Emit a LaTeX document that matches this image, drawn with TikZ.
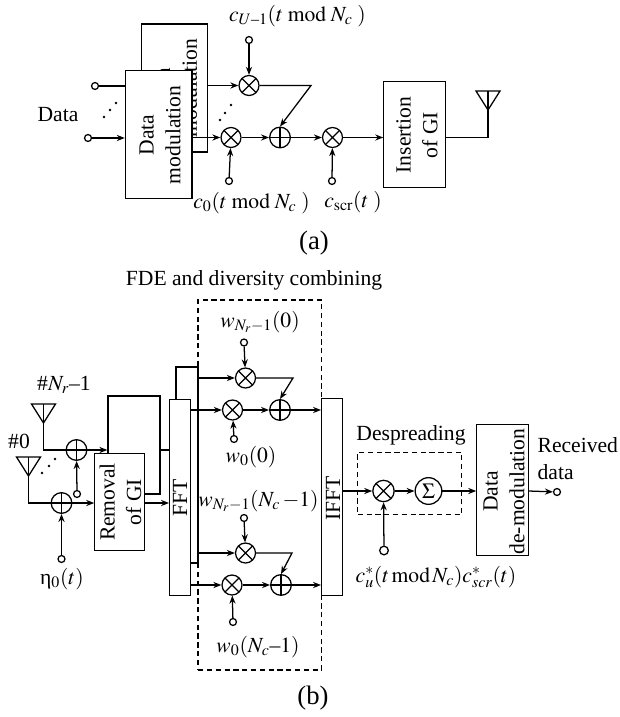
\documentclass[tikz,border=0pt]{standalone}
\usepackage{amsmath}
\usepackage{mathptmx}
\usepackage[no-math]{fontspec}
\setmainfont{Liberation Serif}
\usetikzlibrary{arrows.meta, calc}
\tikzset{
  block/.style={draw,rectangle,fill=white,inner sep=0pt,align=center},
  vtext/.style={rotate=90,align=center,inner sep=0pt},
  term/.style={draw,circle,fill=white,inner sep=0pt,minimum size=5.2pt},
  mulnode/.style={draw,circle,inner sep=0pt,minimum size=15pt,
    path picture={\draw (path picture bounding box.north west) -- (path picture bounding box.south east)
      (path picture bounding box.north east) -- (path picture bounding box.south west);}},
  addnode/.style={draw,circle,inner sep=0pt,minimum size=15.5pt,
    path picture={\draw (path picture bounding box.north) -- (path picture bounding box.south)
      (path picture bounding box.east) -- (path picture bounding box.west);}},
  dashbox/.style={draw,dashed,dash pattern=on 4pt off 2.6pt}
}
\begin{document}
\begin{tikzpicture}[x=0.75pt,y=-0.75pt,line width=0.95pt,>={Stealth[length=6pt,width=4.6pt]},font=\fontsize{16.2}{20}\selectfont]
    \useasboundingbox (0,0) rectangle (619,717);

    \node[block,minimum width=50pt,minimum height=96pt] (modB) at (174.5,88) {};
    \node[vtext] (modBtext) at (176.5,88) {Data\\modulation};
    \node[block,minimum width=50pt,minimum height=95.5pt] (modF) at (158.75,134.5) {};
    \node[vtext] (modFtext) at (160,135) {Data\\modulation};
    \node[block,minimum width=46pt,minimum height=80pt] (insert) at (414.5,134.5) {};
    \node[vtext] (insertText) at (417,135) {Insertion\\of GI};

    \node[term] (termDU) at (95,86) {};
    \node[term] (termD0) at (88,138) {};
    \node[term] (termU) at (249,40) {};
    \node[term] (termC0) at (229,181) {};
    \node[term] (termS) at (332,181) {};
    \node[mulnode] (mulU) at (249,85.5) {};
    \node[mulnode] (mul0) at (231,137.5) {};
    \node[addnode] (addA) at (280,137.5) {};
    \node[mulnode] (mulS) at (332.5,137.5) {};
    \coordinate (bendA) at (311,85.5);
    \coordinate (antA) at (488,91);

    \draw (termDU) -- (modF.west |- termDU);
    \draw[->] (termD0) -- (modF.west |- termD0);
    \draw[->] (modB.east |- mulU) -- (mulU);
    \draw[->] (modF.east |- mul0) -- (mul0);
    \draw[->] (termU) -- (mulU);
    \draw[->] (termC0) -- (mul0);
    \draw[->] (termS) -- (mulS);
    \draw[->] (mul0) -- (addA);
    \draw[->] (mulU) -- (bendA) -- (addA.north);
    \draw[->] (addA) -- (mulS);
    \draw[->] (mulS) -- (mulS -| insert.west);
    \draw (mulS -| insert.east) -| (antA);
    \draw (antA) ++(-12,0) -- ++(24,0) -- ++(-12,19) -- cycle;
    \foreach \dotx/\doty in {104/117,110/110,116/103,220/120,225/113,231/105}
      \fill (\dotx,\doty) circle (1.1pt);

    \node (dataLabel) at (58,115) {Data};
    \node (labelU) at (297.5,16) {$c_{U\text{--}1}(t\;\mathrm{mod}\;N_c\;)$};
    \node (labelC0) at (251.5,203) {$c_0(t\;\mathrm{mod}\;N_c\;)$};
    \node (labelS) at (353,202) {$c_{\mathrm{scr}}(t\;)$};
    \node[font=\fontsize{20}{24}\selectfont] (capA) at (314,243) {(a)};

    \node (fdeLabel) at (254,280) {FDE and diversity combining};
    \node[dashbox,minimum width=92.6pt,minimum height=277.5pt,inner sep=0pt] (fdeBox) at (259.85,485) {};

    \node[block,minimum width=39pt,minimum height=73.5pt] (remB) at (134,445) {};
    \node[block,minimum width=37pt,minimum height=73pt] (remF) at (119.5,502) {};
    \node[vtext] (remText) at (120.5,502) {Removal\\of GI};
    \node[block,minimum width=16.5pt,minimum height=147pt] (fftB) at (187,465) {};
    \node[block,minimum width=15.5pt,minimum height=147pt] (fftF) at (180,497.25) {};
    \node[vtext] (fftText) at (180,497.5) {FFT};
    \node[block,minimum width=15.5pt,minimum height=148pt] (ifft) at (332,497) {};
    \node[vtext] (ifftText) at (333,498) {IFFT};
    \node[block,minimum width=38.5pt,minimum height=98.5pt] (demod) at (502.5,490) {};
    \node[vtext] (demodText) at (504,491.5) {Data\\de-modulation};

    \coordinate (antU) at (43.5,404);
    \coordinate (ant0) at (28.5,457);
    \node[addnode] (addR1) at (76.5,450) {};
    \node[addnode] (addR0) at (61.5,503) {};
    \node[term] (termR1) at (77,494) {};
    \node[term] (termR0) at (61.5,559) {};

    \draw (antU) ++(-12,0) -- ++(24,0) -- ++(-12,19) -- cycle;
    \draw (ant0) ++(-12,0) -- ++(24,0) -- ++(-12,19) -- cycle;
    \draw (antU) |- (addR1);
    \draw (ant0) |- (addR0);
    \draw[->] (termR1) -- (addR1);
    \draw[->] (termR0) -- (addR0);
    \draw[->] (addR1) -- (addR1 -| remB.west);
    \draw[->] (addR0) -- (addR0 -| remF.west);
    \draw (remB.east |- addR1) -- (addR1 -| fftF.west);
    \draw[->] (remF.east |- addR0) -- (addR0 -| fftF.west);
    \foreach \dotx/\doty in {42/473,49/466,55/459}
      \fill (\dotx,\doty) circle (1.1pt);

    \node[mulnode] (mulT) at (245.5,378) {};
    \node[mulnode] (mulT0) at (232.5,410) {};
    \node[addnode] (addT) at (280,410) {};
    \node[term] (termT) at (244,342.5) {};
    \node[term] (termT0) at (234,439) {};
    \coordinate (bendT) at (293,378);
    \draw[->] (termT) -- (mulT);
    \draw[->] (termT0) -- (mulT0);
    \draw[->] (mulT -| fftB.east) -- (mulT);
    \draw[->] (mulT0 -| fftF.east) -- (mulT0);
    \draw[->] (mulT0) -- (addT);
    \draw[->] (mulT) -- (bendT) -- (addT.north);
    \draw[->] (addT) -- (addT -| ifft.west);

    \node[mulnode] (mulL) at (245.5,553) {};
    \node[mulnode] (mulL0) at (232,585) {};
    \node[addnode] (addL) at (281,585) {};
    \node[term] (termL) at (244,518) {};
    \node[term] (termL0) at (233,622) {};
    \coordinate (bendL) at (292,553);
    \draw[->] (termL) -- (mulL);
    \draw[->] (termL0) -- (mulL0);
    \draw[->] (mulL -| fftB.east) -- (mulL);
    \draw[->] (mulL0 -| fftF.east) -- (mulL0);
    \draw[->] (mulL0) -- (addL);
    \draw[->] (mulL) -- (bendL) -- (addL.north);
    \draw[->] (addL) -- (addL -| ifft.west);

    \node[dashbox,minimum width=78pt,minimum height=47pt,inner sep=0pt] (despBox) at (409.7,483.5) {};
    \node[mulnode,minimum size=16pt] (mulD) at (383.5,491) {};
    \node[draw,circle,inner sep=0pt,minimum size=20pt] (sumD) at (428.5,491) {$\Sigma$};
    \node[term,minimum size=6.5pt] (termD) at (384,550.5) {};
    \node[term] (termOut) at (557,492) {};
    \draw[->] (mulD -| ifft.east) -- (mulD);
    \draw[->] (mulD) -- (sumD);
    \draw[->] (termD) -- (mulD);
    \draw[->] (sumD) -- (sumD -| demod.west);
    \draw[->] (sumD -| demod.east) -- (termOut);

    \node (labelNr) at (64,385) {\#$N_r$--1};
    \node (labelZero) at (19,441) {\#0};
    \node[inner sep=0pt] (labelEta) at (62,579) {η$_0(t)$};
    \node (labelWT) at (260,322) {$w_{N_r-1}(0)$};
    \node (labelWT0) at (251,457) {$w_0(0)$};
    \node (labelWL) at (258.5,501) {$w_{N_r-1}(N_c\,{-}1)$};
    \node (labelWL0) at (258,647) {$w_0(N_c\text{--}1)$};
    \node (despLabel) at (411,435) {Despreading};
    \node[align=left,anchor=west,inner sep=0pt] (recvLabel) at (537,458.5) {Received\\data};
    \node (labelCu) at (436,577) {$c_u^*(t\,\mathrm{mod}\,N_c)c_{scr}^*(t)$};
    \node[font=\fontsize{20}{24}\selectfont] (capB) at (313,698) {(b)};
\end{tikzpicture}
\end{document}
